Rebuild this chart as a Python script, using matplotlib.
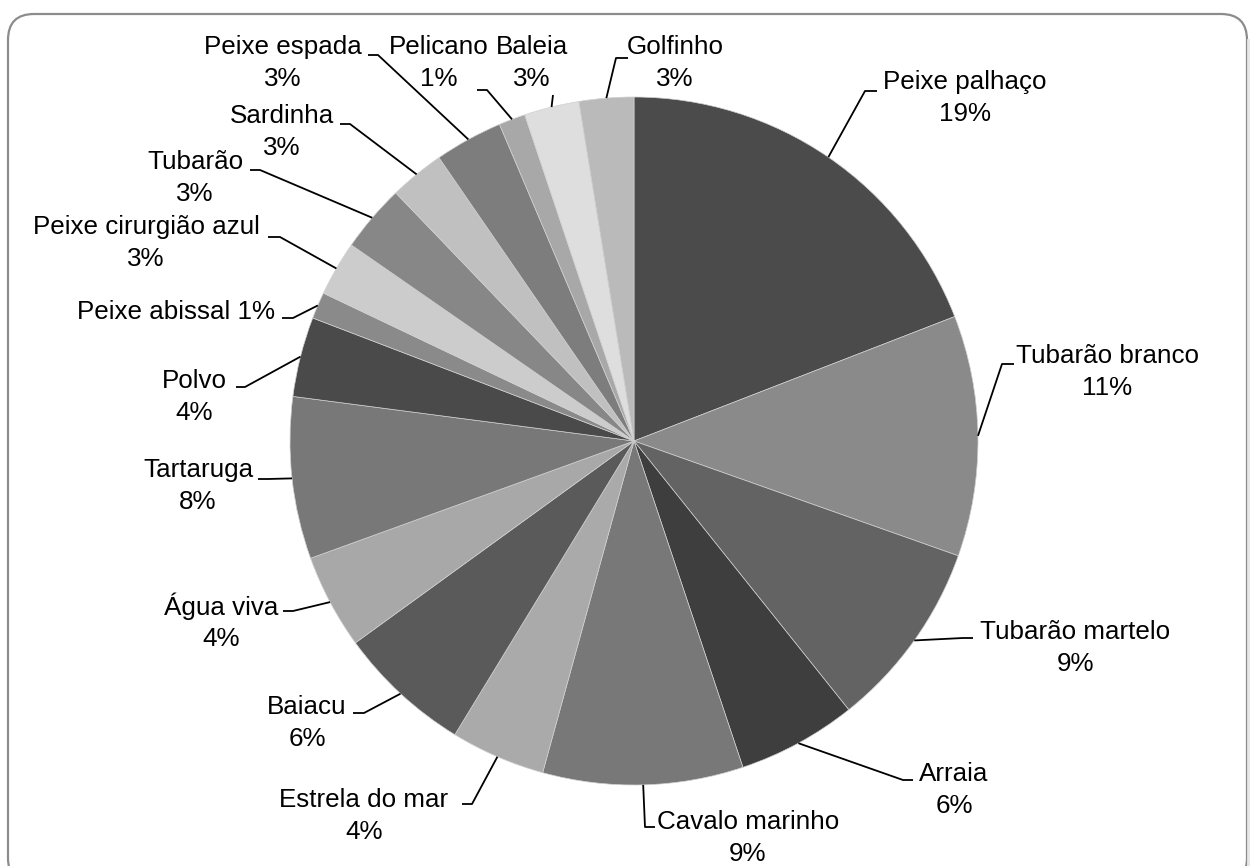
import numpy as np
import matplotlib
matplotlib.use("Agg")
import matplotlib.pyplot as plt
from matplotlib.patches import FancyBboxPatch

plt.rcParams['font.family'] = ['Liberation Sans', 'DejaVu Sans']

# Data (share of each animal)
animals = ['Peixe palhaço', 'Tubarão branco', 'Tubarão martelo', 'Arraia',
           'Cavalo marinho', 'Estrela do mar', 'Baiacu', 'Água viva',
           'Tartaruga', 'Polvo', 'Peixe abissal', 'Peixe cirurgião azul',
           'Tubarão', 'Sardinha', 'Peixe espada', 'Pelicano', 'Baleia',
           'Golfinho']
shares = [19.1, 11.3, 8.85, 5.6, 9.4, 4.44, 6.3, 4.44, 7.6, 3.75, 1.25,
          2.58, 3.17, 2.58, 3.2, 1.25, 2.58, 2.56]

# Styles
greys = ['#4b4b4b', '#8a8a8a', '#636363', '#3e3e3e', '#787878', '#aaaaaa',
         '#5a5a5a', '#a8a8a8', '#787878', '#4a4a4a', '#8a8a8a', '#cccccc',
         '#878787', '#c0c0c0', '#7d7d7d', '#a8a8a8', '#dedede', '#bababa']

# label block centre (px) and leader elbow/stub points (px)
label_pos = [(965, 98), (1107, 372), (1075, 648), (954, 790), (748, 838),
             (364, 816), (307, 723), (221, 622), (198, 486), (194, 397),
             (176, 312), (146, 243), (195, 178), (282, 132), (283, 63),
             (439, 63), (532, 63), (675, 63)]
leader_pts = [[(865, 91), (877, 91)], [(1002, 364), (1014, 364)],
              [(963, 638), (973, 638)], [(903, 780), (913, 780)],
              [(645, 827), (655, 827)], [(472, 804), (462, 804)],
              [(364, 713), (353, 713)], [(293, 611), (283, 611)],
              [(268, 479), (258, 479)], [(245, 387), (236, 387)],
              [(293, 318), (282, 318)], [(280, 237), (268, 237)],
              [(260, 170), (250, 170)], [(350, 124), (340, 124)],
              [(378, 55), (368, 55)], [(487, 90), (477, 90)],
              [(553, 95)], [(616, 58), (628, 58)]]

W, H = 1251, 866
cx, cy, R = 634, 441, 344

fig = plt.figure(figsize=(W / 100, H / 100), dpi=100)
ax = fig.add_axes([0, 0, 1, 1])

# chart area border
box = FancyBboxPatch((8, 14), 1239, 870, boxstyle="round,pad=0,rounding_size=26",
                     facecolor='white', edgecolor='#8c8c8c', linewidth=1.6, zorder=0)
ax.add_patch(box)
ax.plot([1248, 1248], [40, 866], color='#e6e6e6', lw=2, zorder=0)

wedges, _ = ax.pie(shares, colors=greys, startangle=-90, counterclock=True,
                   center=(cx, cy), radius=R,
                   wedgeprops=dict(edgecolor='#d0d0d0', linewidth=0.5))

ax.set_xlim(0, W)
ax.set_ylim(H, 0)
ax.set_aspect('equal')
ax.axis('off')

total = sum(shares)
cum = np.cumsum([0] + shares[:-1])
for i, name in enumerate(animals):
    pct = f"{round(100 * shares[i] / total):d}%"
    if name == 'Peixe abissal':
        txt = f"{name} {pct}"
    else:
        txt = f"{name}\n{pct}"
    lx, ly = label_pos[i]
    ax.text(lx, ly, txt, ha='center', va='center', fontsize=18.7,
            linespacing=1.38, color='black', zorder=5)
    mid = np.deg2rad(-90 + 360 * (cum[i] + shares[i] / 2) / total)
    ex, ey = cx + R * np.cos(mid), cy + R * np.sin(mid)
    xs = [ex] + [p[0] for p in leader_pts[i]]
    ys = [ey] + [p[1] for p in leader_pts[i]]
    ax.plot(xs, ys, color='black', lw=1.3, zorder=4, solid_capstyle='butt')

fig.savefig('out.png', dpi=100)
